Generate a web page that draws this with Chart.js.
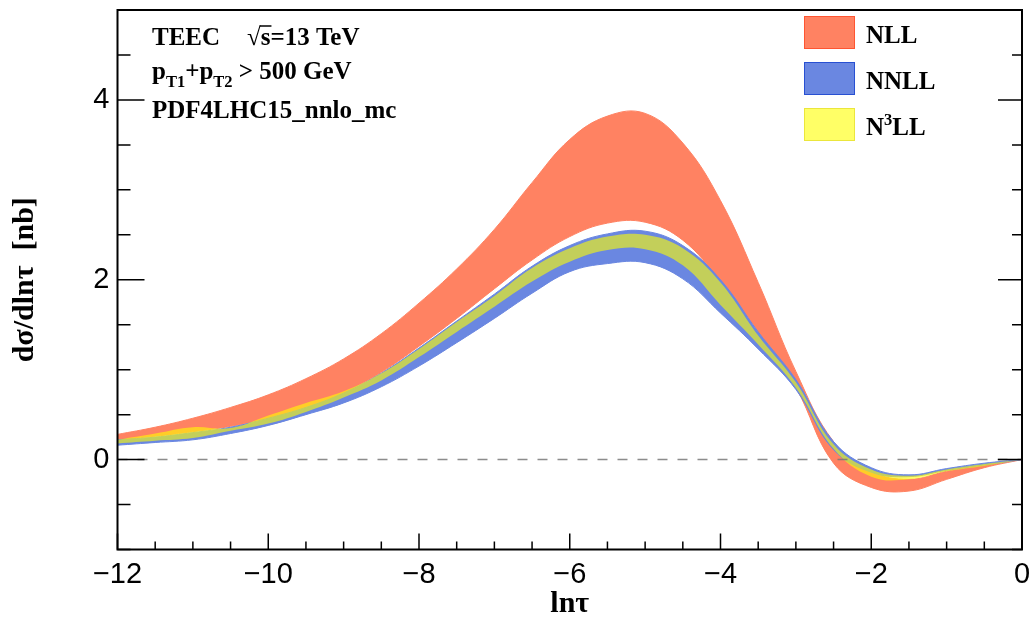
<!DOCTYPE html>
<html>
<head>
<meta charset="utf-8">
<script src="https://cdn.jsdelivr.net/npm/chart.js@4"></script>
<style>
  body { margin: 0; background: #fff; }
  #wrap { width: 1035px; height: 617px; }
</style>
</head>
<body>
<div id="wrap"><canvas id="chart" width="1035" height="617"></canvas></div>
<script>
// ln(tau) grid and band edges
const lnTau  = [-12, -11.5, -11, -10.5, -10, -9.5, -9, -8.5, -8, -7.5, -7, -6.5, -6, -5.5, -5, -4.5, -4, -3.5, -3, -2.5, -2, -1.5, -1, -0.5, 0];
const nllHi  = [0.28, 0.36, 0.46, 0.58, 0.72, 0.90, 1.12, 1.40, 1.74, 2.12, 2.56, 3.08, 3.56, 3.82, 3.85, 3.52, 2.88, 1.97, 0.98, 0.20, -0.13, -0.22, -0.13, -0.06, 0];
const nllLo  = [0.22, 0.26, 0.31, 0.37, 0.46, 0.58, 0.74, 0.97, 1.26, 1.57, 1.90, 2.22, 2.48, 2.63, 2.64, 2.44, 1.98, 1.42, 0.80, -0.04, -0.31, -0.35, -0.22, -0.09, 0];
const nnllHi = [0.22, 0.25, 0.30, 0.36, 0.46, 0.58, 0.74, 0.96, 1.24, 1.54, 1.84, 2.15, 2.38, 2.51, 2.54, 2.38, 2.00, 1.42, 0.89, 0.20, -0.09, -0.17, -0.10, -0.04, 0];
const nnllLo = [0.16, 0.19, 0.22, 0.29, 0.38, 0.50, 0.63, 0.81, 1.04, 1.30, 1.57, 1.85, 2.09, 2.18, 2.19, 2.01, 1.63, 1.23, 0.78, 0.11, -0.14, -0.19, -0.12, -0.06, 0];
const n3llHi = [0.22, 0.29, 0.36, 0.35, 0.49, 0.63, 0.76, 0.96, 1.23, 1.53, 1.82, 2.13, 2.35, 2.48, 2.50, 2.35, 1.97, 1.38, 0.86, 0.17, -0.11, -0.18, -0.11, -0.05, 0];
const n3llLo = [0.18, 0.21, 0.24, 0.32, 0.40, 0.53, 0.69, 0.88, 1.14, 1.42, 1.70, 1.98, 2.20, 2.33, 2.34, 2.16, 1.72, 1.28, 0.80, 0.12, -0.19, -0.22, -0.13, -0.07, 0];

const xTicks = [-12, -10, -8, -6, -4, -2, 0];
const yTicks = [0, 2, 4];

const RED = 'rgb(255,130,98)';
const BLUE = 'rgb(106,135,225)';
const YELLOW = 'rgba(255,255,0,0.6)';
const SERIF = "'Liberation Serif', 'Times New Roman', serif";
const SANS = "'Liberation Sans', Arial, sans-serif";

function pts(ys) {
  return lnTau.map((x, i) => ({ x: x, y: ys[i] }));
}

function edge(ys, color, fill, order) {
  return {
    data: pts(ys),
    borderColor: color,
    borderWidth: 1,
    backgroundColor: fill ? color : 'transparent',
    fill: fill,
    pointRadius: 0,
    tension: 0.4,
    order: order
  };
}

const minus = v => (v < 0 ? '\u2212' + Math.abs(v) : String(v));

function drawRich(ctx, x, y, parts, size) {
  parts.forEach(p => {
    const s = (p.sub || p.sup) ? size * 0.66 : size;
    const dy = p.sub ? size * 0.3 : (p.sup ? -size * 0.4 : 0);
    ctx.font = 'bold ' + s + 'px ' + SERIF;
    ctx.fillText(p.t, x, y + dy);
    x += ctx.measureText(p.t).width;
  });
}

const rootLook = {
  id: 'rootLook',
  afterDatasetsDraw(chart) {
    const ctx = chart.ctx;
    const xs = chart.scales.x, ys = chart.scales.y;
    ctx.save();
    ctx.strokeStyle = 'rgba(120,120,120,0.85)';
    ctx.lineWidth = 1.5;
    ctx.setLineDash([10, 10]);
    ctx.beginPath();
    ctx.moveTo(xs.getPixelForValue(-12), ys.getPixelForValue(0));
    ctx.lineTo(xs.getPixelForValue(0), ys.getPixelForValue(0));
    ctx.stroke();
    ctx.restore();
  },
  afterDraw(chart) {
    const ctx = chart.ctx;
    const a = chart.chartArea;
    const xs = chart.scales.x, ys = chart.scales.y;
    ctx.save();
    ctx.strokeStyle = '#000';
    ctx.lineWidth = 2;
    ctx.strokeRect(a.left, a.top, a.right - a.left, a.bottom - a.top);

    // ticks: major every 2, minor every 0.5
    ctx.lineWidth = 1.5;
    ctx.beginPath();
    for (let i = -24; i <= 0; i++) {
      const px = xs.getPixelForValue(i / 2);
      const len = i % 4 === 0 ? 16 : 8;
      ctx.moveTo(px, a.bottom);
      ctx.lineTo(px, a.bottom - len);
    }
    for (let i = -2; i <= 10; i++) {
      const py = ys.getPixelForValue(i / 2);
      const major = i % 4 === 0;
      ctx.moveTo(a.left, py);
      ctx.lineTo(a.left + (major ? 27 : 13), py);
      ctx.moveTo(a.right, py);
      ctx.lineTo(a.right - (major ? 24 : 10), py);
    }
    ctx.stroke();

    // text block
    ctx.fillStyle = '#000';
    ctx.textBaseline = 'alphabetic';
    ctx.textAlign = 'left';
    const fs = 25;
    ctx.font = 'bold ' + fs + 'px ' + SERIF;
    ctx.fillText('TEEC', 152, 45);
    ctx.fillText('\u221As=13 TeV', 247, 45);
    const wr = ctx.measureText('\u221A').width;
    const ws = ctx.measureText('s').width;
    ctx.beginPath();
    ctx.lineWidth = 1.5;
    ctx.moveTo(247 + wr - 1, 26);
    ctx.lineTo(247 + wr + ws + 1, 26);
    ctx.stroke();
    drawRich(ctx, 152, 79, [{ t: 'p' }, { t: 'T1', sub: true }, { t: '+p' }, { t: 'T2', sub: true }, { t: ' > 500 GeV' }], fs);
    ctx.font = 'bold ' + fs + 'px ' + SERIF;
    ctx.fillText('PDF4LHC15_nnlo_mc', 152, 118);

    // legend
    const legend = [
      { fill: RED, line: 'rgb(255,85,50)', y: 16, parts: [{ t: 'NLL' }], base: 43 },
      { fill: BLUE, line: 'rgb(40,80,210)', y: 62, parts: [{ t: 'NNLL' }], base: 89 },
      { fill: 'rgb(255,255,102)', line: 'rgb(235,230,60)', y: 108, parts: [{ t: 'N' }, { t: '3', sup: true }, { t: 'LL' }], base: 135 }
    ];
    legend.forEach(l => {
      ctx.fillStyle = l.fill;
      ctx.fillRect(804, l.y, 51, 33);
      ctx.strokeStyle = l.line;
      ctx.lineWidth = 1;
      ctx.strokeRect(804.5, l.y + 0.5, 50, 32);
      ctx.fillStyle = '#000';
      drawRich(ctx, 866, l.base, l.parts, fs);
    });
    ctx.restore();
  }
};

const ctx = document.getElementById('chart').getContext('2d');
const chart = new Chart(ctx, {
  type: 'line',
  data: {
    datasets: [
      edge(n3llLo, 'transparent', false, 0),
      Object.assign(edge(n3llHi, 'transparent', 0, 0), { backgroundColor: YELLOW }),
      edge(nnllLo, BLUE, false, 1),
      edge(nnllHi, BLUE, 2, 1),
      edge(nllLo, RED, false, 2),
      edge(nllHi, RED, 4, 2)
    ]
  },
  options: {
    responsive: false,
    animation: false,
    events: [],
    layout: { padding: { top: 10, right: 13, left: 0, bottom: 0 } },
    plugins: { legend: { display: false }, tooltip: { enabled: false } },
    scales: {
      x: {
        type: 'linear',
        min: -12,
        max: 0,
        afterBuildTicks: s => { s.ticks = xTicks.map(v => ({ value: v })); },
        afterFit: s => { s.height = 67.5; s.paddingLeft = 0; s.paddingRight = 0; },
        grid: { display: false, drawTicks: false },
        border: { display: false },
        ticks: {
          autoSkip: false,
          maxRotation: 0,
          padding: 8,
          color: '#000',
          font: { family: SANS, size: 29 },
          callback: v => minus(v)
        },
        title: {
          display: true,
          text: 'ln\u03C4',
          color: '#000',
          padding: 0,
          font: { family: SERIF, size: 30, weight: 'bold', lineHeight: 0.85 }
        }
      },
      y: {
        type: 'linear',
        min: -1,
        max: 5,
        afterBuildTicks: s => { s.ticks = yTicks.map(v => ({ value: v })); },
        afterFit: s => { s.width = 117.5; s.paddingTop = 0; s.paddingBottom = 0; },
        grid: { display: false, drawTicks: false },
        border: { display: false },
        ticks: {
          padding: 8,
          color: '#000',
          font: { family: SANS, size: 29 },
          callback: v => minus(v)
        },
        title: {
          display: true,
          text: 'd\u03C3/dln\u03C4  [nb]',
          color: '#000',
          padding: { top: 7, bottom: 0 },
          font: { family: SERIF, size: 30, weight: 'bold', lineHeight: 1.2 }
        }
      }
    }
  },
  plugins: [rootLook]
});
</script>
</body>
</html>
